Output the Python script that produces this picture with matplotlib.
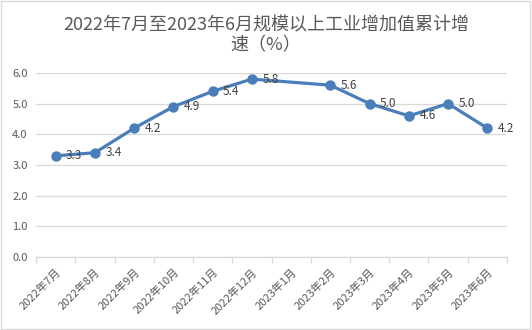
import numpy as np
import matplotlib
matplotlib.use("Agg")
import matplotlib.pyplot as plt
from matplotlib.patches import Rectangle

plt.rcParams['font.family'] = ['Noto Sans CJK SC', 'DejaVu Sans']

months = ['2022年7月', '2022年8月', '2022年9月', '2022年10月', '2022年11月', '2022年12月',
          '2023年1月', '2023年2月', '2023年3月', '2023年4月', '2023年5月', '2023年6月']
growth = [3.3, 3.4, 4.2, 4.9, 5.4, 5.8, None, 5.6, 5.0, 4.6, 5.0, 4.2]
yticks = [0.0, 1.0, 2.0, 3.0, 4.0, 5.0, 6.0]
title = '2022年7月至2023年6月规模以上工业增加值累计增\n速（%）'

line_color = '#4a7ebb'
text_color = '#595959'
grid_color = '#d9d9d9'

fig = plt.figure(figsize=(5.32, 3.30), dpi=100)
ax = fig.add_axes([0.0677, 0.221, 0.8853, 0.558])

x = np.arange(len(months))
# skip the missing month, the line just joins its neighbours
xs = [i for i, v in zip(x, growth) if v is not None]
ys = [v for v in growth if v is not None]
ax.plot(xs, ys, color=line_color, lw=2.3, marker='o', markersize=6.5,
        solid_capstyle='round', zorder=3)

for i, v in zip(xs, ys):
    ax.annotate(f'{v:.1f}', (i, v), xytext=(7.5, 0), textcoords='offset points',
                ha='left', va='center', fontsize=8.5, color='#404040', zorder=4)

ax.set_xlim(-0.5, len(months) - 0.5)
ax.set_ylim(0, 6)
ax.set_yticks(yticks)
ax.set_yticklabels([f'{t:.1f}' for t in yticks], fontsize=8, color=text_color)
ax.tick_params(axis='y', length=0, pad=6)
ax.yaxis.grid(True, color=grid_color, lw=0.9)
ax.set_axisbelow(True)

ax.set_xticks(x)
ax.set_xticklabels(months, rotation=45, ha='right', va='top', rotation_mode='anchor',
                   fontsize=8, color=text_color)
ax.tick_params(axis='x', which='major', length=0, pad=7)
ax.set_xticks(np.arange(-0.5, len(months) + 0.5, 1), minor=True)
ax.tick_params(axis='x', which='minor', length=4, color=grid_color, width=0.9)

for s in ['left', 'right', 'top']:
    ax.spines[s].set_visible(False)
ax.spines['bottom'].set_color(grid_color)
ax.spines['bottom'].set_linewidth(0.9)

fig.text(0.5, 0.95, title, ha='center', va='top', fontsize=13, color=text_color,
         linespacing=1.15)

fig.patches.append(Rectangle((0.002, 0.003), 0.994, 0.994, transform=fig.transFigure,
                             fill=False, edgecolor='#d9d9d9', lw=1))

fig.savefig('out.png', dpi=100)
